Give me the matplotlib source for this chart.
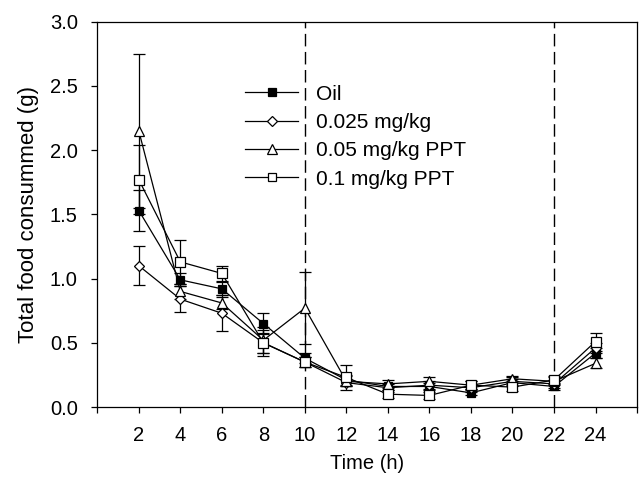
import matplotlib
matplotlib.use("Agg")
import matplotlib.pyplot as plt
from matplotlib.lines import Line2D
import numpy as np

plt.rcParams['font.family'] = ['Liberation Sans', 'DejaVu Sans']

# 時間 (h)
time = [2, 4, 6, 8, 10, 12, 14, 16, 18, 20, 22, 24]

# 各群の平均値と誤差
oil = [1.53, 0.99, 0.92, 0.65, 0.38, 0.21, 0.16, 0.16, 0.11, 0.19, 0.16, 0.42]
oil_err = [0.16, 0.05, 0.05, 0.08, 0.04, 0.04, 0.03, 0.03, 0.02, 0.03, 0.03, 0.04]

d025 = [1.10, 0.84, 0.73, 0.50, 0.35, 0.19, 0.15, 0.17, 0.15, 0.20, 0.18, 0.46]
d025_err = [0.15, 0.10, 0.14, 0.08, 0.04, 0.03, 0.03, 0.03, 0.03, 0.03, 0.03, 0.04]

d05 = [2.15, 0.90, 0.81, 0.52, 0.77, 0.20, 0.18, 0.20, 0.17, 0.22, 0.20, 0.34]
d05_err = [0.60, 0.06, 0.05, 0.10, 0.28, 0.04, 0.03, 0.03, 0.03, 0.02, 0.03, 0.04]

d1 = [1.77, 1.13, 1.04, 0.50, 0.35, 0.23, 0.10, 0.09, 0.17, 0.155, 0.21, 0.51]
d1_err = [0.27, 0.17, 0.06, 0.10, 0.04, 0.10, 0.03, 0.03, 0.03, 0.03, 0.03, 0.07]

labels = ['Oil', '0.025 mg/kg', '0.05 mg/kg PPT', '0.1 mg/kg PPT']
xtick_vals = np.arange(0, 27, 2)
ytick_vals = np.arange(0, 3.01, 0.5)
vlines = [10, 22]

fig = plt.figure(figsize=(6.43, 4.78), dpi=100)
ax = fig.add_axes([0.1513, 0.1485, 0.8394, 0.8061])

series = [
    (oil, oil_err, 's', 'black', 6),
    (d025, d025_err, 'D', 'white', 5.5),
    (d05, d05_err, '^', 'white', 7),
    (d1, d1_err, 's', 'white', 6.5),
]

handles = []
for (vals, err, mk, fc, ms), lab in zip(series, labels):
    ax.errorbar(time, vals, yerr=err, marker=mk, mfc=fc, mec='black', ms=ms,
                color='black', lw=0.9, elinewidth=0.9, capsize=4.5, capthick=0.9,
                mew=0.9)
    handles.append(Line2D([], [], marker=mk, mfc=fc, mec='black', ms=ms - 0.5,
                          color='black', lw=0.9, mew=0.9, label=lab))

# 破線
for v in vlines:
    ax.axvline(v, color='black', lw=1.0, ls=(0, (9, 4)))

ax.set_xlim(0, 26)
ax.set_ylim(0, 3.0)

ax.set_xticks(xtick_vals)
ax.set_xticklabels(['' if (t == 0 or t == 26) else str(t) for t in xtick_vals])
ax.set_yticks(ytick_vals)
ax.set_yticklabels([f'{v:.1f}' for v in ytick_vals])
ax.tick_params(direction='out', length=4, width=0.9, labelsize=14.5, pad=10)

for s in ax.spines.values():
    s.set_linewidth(0.9)

ax.set_xlabel('Time (h)', fontsize=14.5, labelpad=6)
ax.set_ylabel('Total food consummed (g)', fontsize=16, labelpad=8)

ax.legend(handles=handles, loc='upper left', bbox_to_anchor=(0.2737, 0.837),
          frameon=False, fontsize=15, handlelength=2.55, handletextpad=0.85,
          labelspacing=0.45, borderaxespad=0, borderpad=0)

fig.savefig('out.png', dpi=100)
